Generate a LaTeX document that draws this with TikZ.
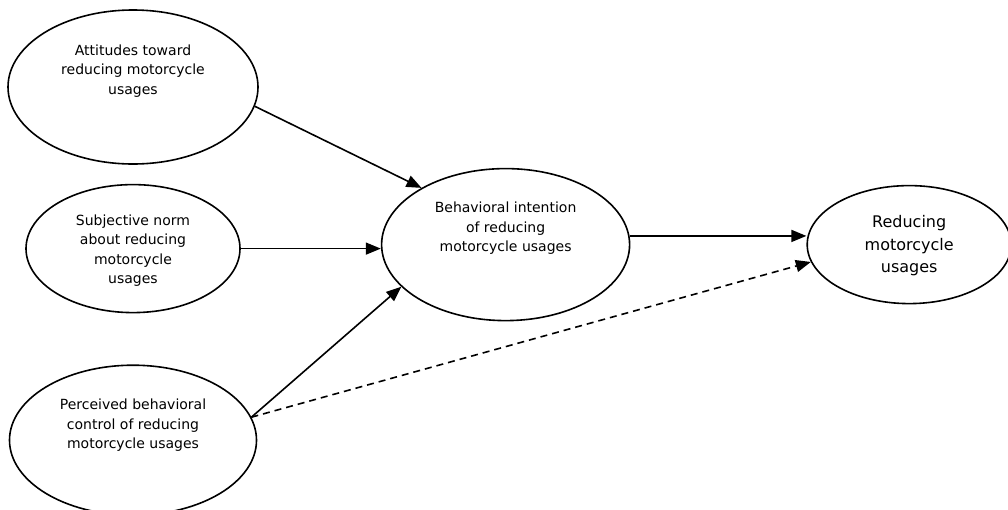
\documentclass[tikz,border=0pt]{standalone}
\usepackage{fontspec}
\setmainfont{DejaVu Sans}
\usepackage{tikz}
\usetikzlibrary{arrows.meta,shapes.geometric,positioning}

\begin{document}
\begin{tikzpicture}[->, >={Triangle[length=15pt,width=12pt]}, line width=1.6pt, x=1pt, y=-1pt,
    blob/.style={ellipse, draw, inner sep=0pt},
    words/.style={align=center, inner sep=0pt, font=\fontsize{14}{19.5}\selectfont},
    bigwords/.style={align=center, inner sep=0pt, font=\fontsize{16}{22.5}\selectfont}]
    \useasboundingbox (0,0) rectangle (1008,509);

    \node[blob, minimum width=250pt, minimum height=154pt] (att) at (133,87) {};
    \node[blob, minimum width=214pt, minimum height=128pt] (norm) [below=19pt of att] {};
    \node[blob, minimum width=247pt, minimum height=150pt] (pbc) [below=51pt of norm] {};
    \node[blob, minimum width=248pt, minimum height=152pt] (bi) [right=140pt of norm, yshift=4pt] {};
    \node[blob, minimum width=204pt, minimum height=118pt] (red) [right=176pt of bi] {};

    \node[words] (attT) at ([yshift=16pt]att.center) {Attitudes toward\\reducing motorcycle\\usages};
    \node[words] (normT) at ([yshift=-2pt]norm.center) {Subjective norm\\about reducing\\motorcycle\\usages};
    \node[words] (pbcT) at ([yshift=15pt]pbc.center) {Perceived behavioral\\control of reducing\\motorcycle usages};
    \node[words] (biT) at ([yshift=16pt]bi.center) {Behavioral intention\\of reducing\\motorcycle usages};
    \node[bigwords] (redT) at ([yshift=-1pt]red.center) {Reducing\\motorcycle\\usages};

    \path
        (att.-9) edge (bi.146)
        (norm.east) edge (norm.east -| bi.west)
        (pbc.11) edge (bi.202)
        (pbc.11) edge [dash pattern=on 7pt off 5pt] (red.190)
        (bi.4) edge (bi.4 -| red.west);
\end{tikzpicture}
\end{document}
